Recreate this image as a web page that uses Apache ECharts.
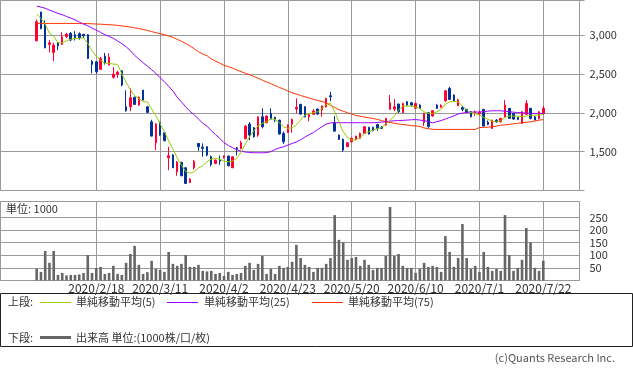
<!DOCTYPE html>
<html><head><meta charset="utf-8">
<script src="https://cdn.jsdelivr.net/npm/echarts@6/dist/echarts.min.js"></script>
<style>html,body{margin:0;padding:0;background:#fff}#c{width:633px;height:374px}</style>
</head><body><div id="c"></div>
<script>
const dates = ['2020/1/28','2020/1/29','2020/1/30','2020/1/31','2020/2/3','2020/2/4','2020/2/5','2020/2/6','2020/2/7','2020/2/10','2020/2/12','2020/2/13','2020/2/14','2020/2/17','2020/2/18','2020/2/19','2020/2/20','2020/2/21','2020/2/25','2020/2/26','2020/2/27','2020/2/28','2020/3/2','2020/3/3','2020/3/4','2020/3/5','2020/3/6','2020/3/9','2020/3/10','2020/3/11','2020/3/12','2020/3/13','2020/3/16','2020/3/17','2020/3/18','2020/3/19','2020/3/23','2020/3/24','2020/3/25','2020/3/26','2020/3/27','2020/3/30','2020/3/31','2020/4/1','2020/4/2','2020/4/3','2020/4/6','2020/4/7','2020/4/8','2020/4/9','2020/4/10','2020/4/13','2020/4/14','2020/4/15','2020/4/16','2020/4/17','2020/4/20','2020/4/21','2020/4/22','2020/4/23','2020/4/24','2020/4/27','2020/4/28','2020/4/30','2020/5/1','2020/5/7','2020/5/8','2020/5/11','2020/5/12','2020/5/13','2020/5/14','2020/5/15','2020/5/18','2020/5/19','2020/5/20','2020/5/21','2020/5/22','2020/5/25','2020/5/26','2020/5/27','2020/5/28','2020/5/29','2020/6/1','2020/6/2','2020/6/3','2020/6/4','2020/6/5','2020/6/8','2020/6/9','2020/6/10','2020/6/11','2020/6/12','2020/6/15','2020/6/16','2020/6/17','2020/6/18','2020/6/19','2020/6/22','2020/6/23','2020/6/24','2020/6/25','2020/6/26','2020/6/29','2020/6/30','2020/7/1','2020/7/2','2020/7/3','2020/7/6','2020/7/7','2020/7/8','2020/7/9','2020/7/10','2020/7/13','2020/7/14','2020/7/15','2020/7/16','2020/7/17','2020/7/20','2020/7/21','2020/7/22'];

const opens = [2927,3296,3150,2880,2777,2906,2880,2978,3022,3004, 3017,3010,3004,2661,2657,2559,2730,2614,2456,2498, 2541,2077,2077,2198,2099,2292,2077,1884,1614,1872, 1743,1421,1456,1240,1362,1292,1104,1292,1606,1558, 1563,1434,1349,1400,1427,1443,1292,1549,1542,1666, 1855,1807,1713,1949,1872,1992,1940,1906,1735,1743, 1855,2048,2108,2077,1949,1980,2048,2035,2077,2219, 1872,1713,1658,1563,1627,1658,1671,1735,1812,1812, 1850,1812,1842,2044,2048,2112,2000,2142,2130,2060, 2099,1872,2000,1958,2099,2070,2155,2314,2228,2090, 2070,2044,2013,1990,1985,2044,1880,1799,1905,1884, 1949,2057,1992,1940,1864,1980,2057,1949,1928,1992];

const closes = [3171,3081,2837,2901,2871,2862,2978,3013,2936,2965, 2965,2990,2700,2623,2528,2700,2644,2713,2498,2524, 2357,2026,2193,2108,2198,2163,2005,1700,1855,1713, 1640,1447,1292,1365,1189,1091,1145,1378,1563,1542, 1456,1336,1391,1378,1443,1318,1434,1533,1614,1829, 1713,1691,1949,1820,1958,1919,1906,1726,1627,1842, 1915,2068,1983,1949,1980,2022,1983,2086,2185,2206, 1764,1658,1520,1614,1671,1700,1735,1820,1726,1770, 1799,1800,1928,2129,2077,2013,2120,2099,2099,2120, 2060,1992,1820,2026,2057,2095,2283,2172,2155,2164, 2044,2005,1949,2013,2005,1829,1850,1906,1885,1928, 2099,1928,1919,1915,2013,2120,1928,1906,2013,2057];

const lows = [2920,3075,2830,2777,2665,2807,2875,2965,2920,2930, 2940,2960,2695,2507,2500,2550,2620,2610,2440,2450, 2340,2015,2020,2100,2090,2160,2000,1695,1520,1705, 1635,1262,1290,1190,1185,1085,1095,1270,1510,1434, 1440,1310,1340,1330,1410,1310,1290,1450,1530,1660, 1649,1680,1690,1800,1865,1915,1880,1720,1600,1740, 1743,1992,1975,1940,1890,1975,1975,1950,2070,2150, 1760,1650,1498,1560,1620,1650,1665,1730,1720,1760, 1770,1790,1835,2040,2020,2000,1995,2090,2080,2050, 2050,1829,1810,1950,2050,2065,2140,2165,2150,2085, 2020,1995,1940,1960,1970,1825,1840,1795,1870,1875, 1940,1920,1910,1905,1860,1975,1915,1900,1915,1975];

const highs = [3200,3300,3190,2936,2901,2910,3035,3030,3040,3050, 3035,3015,3010,2680,2665,2720,2770,2765,2588,2540, 2545,2290,2315,2210,2210,2295,2085,1910,1870,1890, 1750,1562,1470,1380,1370,1300,1160,1390,1610,1606, 1570,1450,1400,1450,1450,1450,1440,1560,1640,1840, 1880,1815,1950,2057,1965,2057,1950,1910,1760,1850, 1925,2185,2115,2085,1990,2045,2055,2095,2195,2270, 1958,1720,1670,1620,1680,1705,1745,1830,1820,1820, 1860,1830,1935,2228,2180,2120,2130,2150,2140,2130, 2110,2000,2005,2035,2110,2110,2290,2335,2235,2180, 2085,2050,2020,2030,2030,2050,1900,1910,1920,1935, 2163,2060,2000,1945,2020,2163,2065,1955,2020,2090];

const ma5 = [3270,3215,3142,3022,2987,2901,2901,2927,2945,2957, 2957,2965,2893,2798,2730,2678,2636,2636,2627,2623, 2500,2390,2300,2220,2180,2145,2140,2050,1960,1860, 1756,1640,1530,1420,1327,1245,1222,1241,1290,1320, 1370,1405,1413,1404,1378,1369,1378,1413,1494,1597, 1691,1769,1829,1864,1884,1923,1915,1872,1820,1799, 1807,1842,1906,1970,1992,2000,2013,2052,2108,2121, 2013,1884,1756,1683,1649,1649,1683,1735,1756,1777, 1794,1812,1855,1906,1958,2035,2086,2086,2086,2077, 2052,2013,1992,1992,2013,2044,2112,2142,2146,2142, 2086,2035,2000,1992,1970,1940,1915,1893,1880,1897, 1940,1958,1958,1958,1949,1958,1966,1970,1970,1980];

const ma25 = [3373,3360,3345,3322,3300,3279,3262,3240,3220,3195, 3167,3140,3120,3090,3064,3035,3005,2985,2958,2925, 2890,2850,2800,2740,2690,2644,2600,2555,2507,2450, 2399,2340,2280,2200,2140,2077,2020,1975,1920,1865, 1829,1770,1720,1670,1615,1580,1550,1525,1505,1495, 1490,1486,1485,1485,1487,1500,1528,1550,1562,1585, 1605,1625,1652,1688,1720,1745,1785,1820,1855,1870, 1872,1872,1872,1872,1872,1872,1872,1872,1872,1872, 1876,1880,1885,1893,1897,1900,1903,1906,1910,1913, 1906,1900,1885,1872,1885,1900,1920,1940,1960,1985, 1995,2005,2009,2009,2010,2015,2022,2026,2026,2026, 2020,2013,2008,2003,2000,1997,1993,1992,1992,1992];

const ma75 = [3150,3150,3150,3150,3150,3150,3150,3150,3150,3150, 3150,3150,3148,3145,3142,3140,3136,3133,3130,3125, 3118,3110,3103,3093,3083,3072,3060,3045,3030,3018, 3005,2990,2970,2945,2920,2893,2860,2825,2785,2755, 2735,2695,2665,2640,2610,2595,2575,2550,2530,2510, 2490,2467,2445,2420,2397,2375,2350,2327,2305,2280, 2258,2240,2222,2207,2190,2172,2160,2145,2129,2095, 2070,2040,2020,2000,1985,1965,1955,1945,1935,1928, 1915,1900,1884,1875,1865,1855,1850,1843,1835,1830, 1825,1805,1795,1788,1786,1786,1786,1786,1786,1786, 1786,1786,1786,1786,1810,1812,1815,1820,1828,1840, 1845,1850,1858,1865,1872,1878,1884,1893,1905,1912];

const volumes = [46,34,117,70,117,22,30,20,22,22, 24,30,101,30,49,54,26,30,58,26, 22,70,105,137,62,26,33,78,46,42, 34,113,66,58,66,101,54,54,62,38, 36,38,26,30,18,34,22,26,30,58, 70,42,66,97,26,46,26,58,50,54, 74,141,89,62,54,34,50,50,66,89, 259,161,151,82,89,93,58,82,62,42, 50,50,97,291,97,105,58,50,50,30, 46,70,54,58,54,34,176,113,54,89, 224,89,46,58,34,113,54,38,46,38, 259,101,38,50,82,208,151,50,38,78];

const dateTicks = ['2020/2/18','2020/3/11','2020/4/2','2020/4/23','2020/5/20','2020/6/10','2020/7/1','2020/7/22'];
const priceTicks = [1500,2000,2500,3000];
const volumeTicks = [50,100,150,200,250];

const PAD_L = 8, PAD_R = 8;
const cats = [];
for (let i = 0; i < PAD_L; i++) cats.push('L' + i);
dates.forEach(d => cats.push(d));
for (let i = 0; i < PAD_R; i++) cats.push('R' + i);
const pad = arr => [...Array(PAD_L).fill('-'), ...arr, ...Array(PAD_R).fill('-')];
const candleData = pad(dates.map((d, i) => [opens[i], closes[i], lows[i], highs[i]]));
const tickSet = new Set(dateTicks);
const showTick = (idx, val) => tickSet.has(val);
const FONT = '"Noto Sans CJK JP","Noto Sans",sans-serif';
const GRID = '#999';
const comma = v => String(v).replace(/\B(?=(\d{3})+(?!\d))/g, ',');
const T = 'rgba(0,0,0,0)';

const chart = echarts.init(document.getElementById('c'), null, {renderer: 'canvas'});
chart.setOption({
  animation: false,
  backgroundColor: '#fff',
  grid: [
    {left: 0.5, top: 0.5, width: 579, height: 190, show: true, borderColor: GRID, borderWidth: 1},
    {left: 0.5, top: 201.5, width: 579, height: 79, show: true, borderColor: GRID, borderWidth: 1}
  ],
  xAxis: [
    {type: 'category', gridIndex: 0, data: cats, boundaryGap: true,
     axisLine: {show: false}, axisTick: {show: false}, axisLabel: {show: false},
     splitLine: {show: true, interval: showTick, alignWithLabel: true, lineStyle: {color: GRID, width: 1}}},
    {type: 'category', gridIndex: 1, data: cats, boundaryGap: true,
     axisLine: {show: false}, axisTick: {show: false},
     axisLabel: {show: true, interval: showTick, margin: 2, color: '#333', fontSize: 12, fontFamily: FONT},
     splitLine: {show: true, interval: showTick, alignWithLabel: true, lineStyle: {color: GRID, width: 1}}}
  ],
  yAxis: [
    {type: 'value', gridIndex: 0, position: 'right', min: 1000, max: 3445, interval: 500,
     axisLine: {show: false},
     axisTick: {show: true, length: 5, lineStyle: {color: GRID}},
     axisLabel: {margin: 10, color: '#333', fontSize: 11, fontFamily: FONT,
       formatter: v => priceTicks.includes(v) ? comma(v) : ''},
     splitLine: {show: true, lineStyle: {color: GRID, width: 1}}},
    {type: 'value', gridIndex: 1, position: 'right', min: 0, max: 313, interval: 50,
     axisLine: {show: false}, axisTick: {show: false},
     axisLabel: {margin: 10, color: '#333', fontSize: 11, fontFamily: FONT,
       formatter: v => volumeTicks.includes(v) ? String(v) : ''},
     splitLine: {show: true, lineStyle: {color: [GRID, GRID, GRID, GRID, GRID, GRID, T, GRID], width: 1}}}
  ],
  series: [
    {type: 'candlestick', xAxisIndex: 0, yAxisIndex: 0, data: candleData, barWidth: 2,
     itemStyle: {color: '#ff0033', color0: '#003399', borderColor: '#ff0033', borderColor0: '#003399', borderWidth: 1}},
    {type: 'line', name: '単純移動平均(75)', xAxisIndex: 0, yAxisIndex: 0, data: pad(ma75), showSymbol: false, symbol: 'none',
     lineStyle: {color: '#ff3300', width: 1}, itemStyle: {color: '#ff3300'}},
    {type: 'line', name: '単純移動平均(25)', xAxisIndex: 0, yAxisIndex: 0, data: pad(ma25), showSymbol: false, symbol: 'none',
     lineStyle: {color: '#9900ff', width: 1}, itemStyle: {color: '#9900ff'}},
    {type: 'line', name: '単純移動平均(5)', xAxisIndex: 0, yAxisIndex: 0, data: pad(ma5), showSymbol: false, symbol: 'none',
     lineStyle: {color: '#99cc00', width: 1}, itemStyle: {color: '#99cc00'}},
    {type: 'bar', name: '出来高', xAxisIndex: 1, yAxisIndex: 1, data: pad(volumes), barWidth: 2.6,
     itemStyle: {color: '#666666'}}
  ],
  graphic: [
    {type: 'text', left: 6, top: 203, style: {text: '単位: 1000', fill: '#333', font: '11px ' + FONT}},
    {type: 'rect', shape: {x: 0.5, y: 293.5, width: 632, height: 53}, style: {fill: 'none', stroke: '#222', lineWidth: 1}},
    {type: 'text', x: 8, y: 302, style: {text: '上段:', fill: '#333', font: '11px ' + FONT, verticalAlign: 'middle'}},
    {type: 'line', shape: {x1: 40, y1: 302.5, x2: 71, y2: 302.5}, style: {stroke: '#99cc00', lineWidth: 1}},
    {type: 'text', x: 76, y: 302, style: {text: '単純移動平均(5)', fill: '#333', font: '11px ' + FONT, verticalAlign: 'middle'}},
    {type: 'line', shape: {x1: 167, y1: 302.5, x2: 198, y2: 302.5}, style: {stroke: '#9900ff', lineWidth: 1}},
    {type: 'text', x: 204, y: 302, style: {text: '単純移動平均(25)', fill: '#333', font: '11px ' + FONT, verticalAlign: 'middle'}},
    {type: 'line', shape: {x1: 312, y1: 302.5, x2: 343, y2: 302.5}, style: {stroke: '#ff3300', lineWidth: 1}},
    {type: 'text', x: 348, y: 302, style: {text: '単純移動平均(75)', fill: '#333', font: '11px ' + FONT, verticalAlign: 'middle'}},
    {type: 'text', x: 8, y: 338, style: {text: '下段:', fill: '#333', font: '11px ' + FONT, verticalAlign: 'middle'}},
    {type: 'line', shape: {x1: 40, y1: 337.5, x2: 71, y2: 337.5}, style: {stroke: '#666666', lineWidth: 3}},
    {type: 'text', x: 76, y: 338, style: {text: '出来高 単位:(1000株/口/枚)', fill: '#333', font: '11px ' + FONT, verticalAlign: 'middle'}},
    {type: 'text', x: 615, y: 358, style: {text: '(c)Quants Research Inc.', fill: '#555', font: '11px ' + FONT, align: 'right', verticalAlign: 'middle'}}
  ]
});
</script></body></html>
